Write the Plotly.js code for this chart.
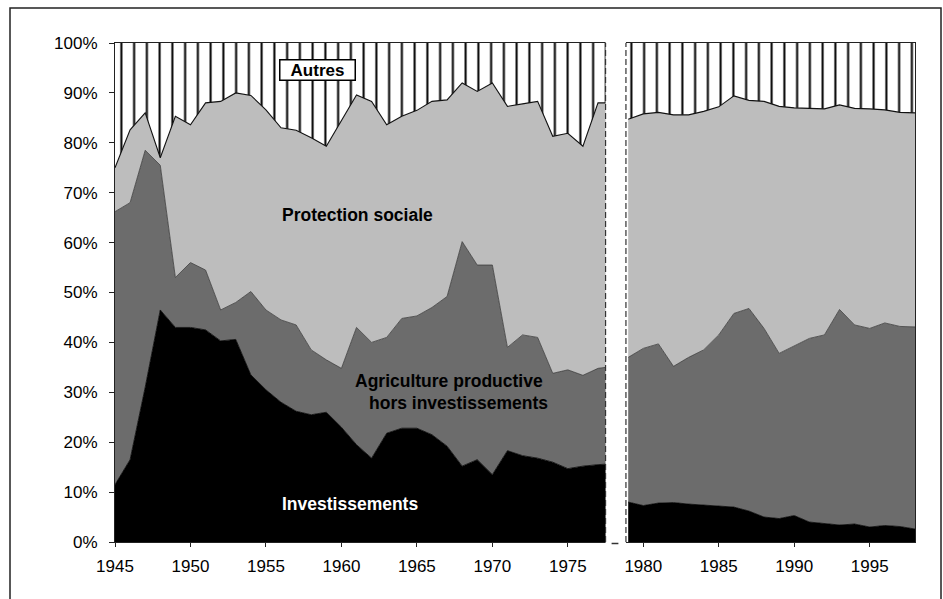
<!DOCTYPE html>
<html>
<head>
<meta charset="utf-8">
<script src="https://cdn.plot.ly/plotly-3.0.1.min.js"></script>
<style>html,body{margin:0;padding:0;background:#fff;}#chart{width:943px;height:599px;}</style>
</head>
<body>
<div id="chart"></div>
<script>
// ---- Data (shares in %) ----
const yearsLeft = [1945,1946,1947,1948,1949,1950,1951,1952,1953,1954,1955,1956,1957,1958,1959,1960,1961,1962,1963,1964,1965,1966,1967,1968,1969,1970,1971,1972,1973,1974,1975,1976,1977,1978];
const invLeft   = [11.5,16.5,31,46.5,43,43,42.5,40.3,40.6,33.5,30.5,28,26.2,25.5,26,23,19.5,16.8,21.8,22.8,22.8,21.5,19.2,15.2,16.5,13.5,18.3,17.3,16.8,16,14.7,15.2,15.5,15.7];
const agriLeft  = [54.7,51.5,47.5,29,10,13,12,6.2,7.4,16.7,16,16.5,17.3,13,10.5,11.8,23.5,23.2,19.2,22,22.5,25.5,30,45,39,42,20.7,24.2,24.2,17.8,19.8,18.2,19.3,19.5];
const protLeft  = [8.8,14.6,7.5,1.5,32.3,27.6,33.5,41.8,42,39.3,40.1,38.5,39,42.5,42.8,49.7,46.6,48.3,42.6,40.5,41.2,41.3,39.4,31.8,34.8,36.5,48.3,46.3,47.3,47.5,47.4,45.9,53.2,52.8];
const autLeft   = [25,17.4,14,23,14.7,16.4,12,11.7,10,10.5,13.4,17,17.5,19,20.7,15.5,10.4,11.7,16.4,14.7,13.5,11.7,11.4,8,9.7,8,12.7,12.2,11.7,18.7,18.1,20.7,12,12];

const yearsRight = [1979,1980,1981,1982,1983,1984,1985,1986,1987,1988,1989,1990,1991,1992,1993,1994,1995,1996,1997,1998];
const invRight   = [8,7.3,7.8,7.9,7.6,7.4,7.1,7,6.2,5,4.7,5.3,4,3.7,3.4,3.6,3,3.3,3.1,2.6];
const agriRight  = [29,31.5,31.9,27.3,29.4,31.1,34.4,38.8,40.6,37.8,33.1,34,36.8,37.8,43.2,39.9,39.8,40.6,40.1,40.5];
const protRight  = [47.7,47,46.4,50.4,48.6,47.8,45.7,43.6,41.7,45.5,49.5,47.7,46.1,45.3,41,43.4,44,42.7,42.9,42.9];
const autRight   = [15.3,14.2,13.9,14.4,14.4,13.7,12.8,10.6,11.5,11.7,12.7,13,13.1,13.2,12.4,13.1,13.2,13.4,13.9,14];

const seriesNames = ['Investissements','Agriculture productive hors investissements','Protection sociale','Autres'];
const xTickVals = [1945,1950,1955,1960,1965,1970,1975,1980,1985,1990,1995];
const xTickText = ['1945','1950','1955','1960','1965','1970','1975','1980','1985','1990','1995'];
const yTickVals = [0,10,20,30,40,50,60,70,80,90,100];
const yTickText = ['0%','10%','20%','30%','40%','50%','60%','70%','80%','90%','100%'];
const gapStart = 1977.5, gapEnd = 1978.85;

// ---- Styles ----
const fills = ['#000000','#6c6c6c','#bdbdbd','#ffffff'];
const lines = [
  {color:'#000000', width:0.8},
  {color:'#3a3a3a', width:0.8},
  {color:'#111111', width:1.1},
  {color:'#111111', width:0}
];
const hatch = {shape:'|', fgcolor:'#000000', bgcolor:'#ffffff', size:12.75, solidity:0.16};

function makeGroup(x, arrs, group) {
  return arrs.map((v, i) => {
    const t = {
      type:'scatter', mode:'lines', x:x, y:v, name:seriesNames[i],
      stackgroup:group, fillcolor:fills[i], line:Object.assign({shape:'linear'}, lines[i]),
      showlegend:false, hoverinfo:'skip'
    };
    if (i === 3) t.fillpattern = hatch;
    return t;
  });
}

const data = [].concat(
  makeGroup(yearsLeft, [invLeft, agriLeft, protLeft, autLeft], 'left'),
  makeGroup(yearsRight, [invRight, agriRight, protRight, autRight], 'right')
);

const fontFam = '"Liberation Sans", Arial, Helvetica, sans-serif';

const layout = {
  width:943, height:599,
  margin:{l:115, r:28, t:43, b:57},
  paper_bgcolor:'#ffffff', plot_bgcolor:'#ffffff',
  showlegend:false,
  font:{family:fontFam, color:'#000', size:17},
  xaxis:{
    range:[1945,1998], tickvals:xTickVals, ticktext:xTickText,
    showgrid:false, zeroline:false, showline:true, linecolor:'#222', linewidth:1, mirror:true,
    ticks:'outside', ticklen:4, tickcolor:'#222', tickwidth:1, ticklabelstandoff:5,
    tickfont:{family:fontFam, size:17, color:'#000'}
  },
  yaxis:{
    range:[0,100], tickvals:yTickVals, ticktext:yTickText,
    showgrid:false, zeroline:false, showline:true, linecolor:'#222', linewidth:1, mirror:true,
    ticks:'outside', ticklen:5, tickcolor:'#222', tickwidth:1, ticklabelstandoff:8,
    tickfont:{family:fontFam, size:17, color:'#000'}
  },
  shapes:[
    // gap between the two periods
    {type:'rect', xref:'x', yref:'paper', x0:gapStart, x1:gapEnd, y0:-0.012, y1:1.012,
     fillcolor:'#ffffff', line:{width:0}, layer:'above'},
    {type:'line', xref:'x', yref:'y', x0:gapStart, x1:gapStart, y0:0, y1:100,
     line:{color:'#333', width:1.2, dash:'6px,3px'}, layer:'above'},
    {type:'line', xref:'x', yref:'y', x0:gapEnd, x1:gapEnd, y0:0, y1:100,
     line:{color:'#333', width:1.2, dash:'6px,3px'}, layer:'above'},
    {type:'line', xref:'x', yref:'paper', x0:1977.9, x1:1978.35, y0:-0.003, y1:-0.003,
     line:{color:'#333', width:1.5}, layer:'above'},
    // outer frame
    {type:'rect', xref:'paper', yref:'paper', x0:-0.13125, x1:1.0325, y0:-0.13, y1:1.0701,
     line:{color:'#222', width:1.5}, fillcolor:'rgba(0,0,0,0)', layer:'above'}
  ],
  annotations:[
    {x:1958.44, y:94.6, xref:'x', yref:'y', text:'<b>Autres</b>', showarrow:false,
     font:{family:fontFam, size:17, color:'#000'}, bgcolor:'#ffffff', bordercolor:'#000',
     borderwidth:1.5, borderpad:1, width:72, height:17},
    {x:1961.06, y:65.6, xref:'x', yref:'y', text:'<b>Protection sociale</b>', showarrow:false,
     font:{family:fontFam, size:17.5, color:'#000'}},
    {x:1967.12, y:32.2, xref:'x', yref:'y', text:'<b>Agriculture productive</b>', showarrow:false,
     font:{family:fontFam, size:17.5, color:'#000'}},
    {x:1967.75, y:27.8, xref:'x', yref:'y', text:'<b>hors investissements</b>', showarrow:false,
     font:{family:fontFam, size:17.5, color:'#000'}},
    {x:1960.56, y:7.6, xref:'x', yref:'y', text:'<b>Investissements</b>', showarrow:false,
     font:{family:fontFam, size:17.5, color:'#ffffff'}}
  ]
};

Plotly.newPlot('chart', data, layout, {displayModeBar:false, staticPlot:true});
</script>
</body>
</html>
